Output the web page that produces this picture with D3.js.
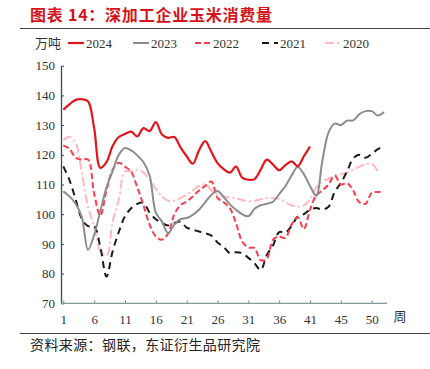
<!DOCTYPE html>
<html>
<head>
<meta charset="utf-8">
<script src="https://cdn.jsdelivr.net/npm/d3@7"></script>
<style>
  body { margin: 0; background: #fff; }
  svg { display: block; }
</style>
</head>
<body>
<div id="chart"></div>
<script>
// weekly corn consumption, 万吨
const xLabels = ["1", "6", "11", "16", "21", "26", "31", "36", "41", "45", "50"];
const yTicks = [70, 80, 90, 100, 110, 120, 130, 140, 150];
const years = ["2024", "2023", "2022", "2021", "2020"];

const y2024 = [135.2, 137, 138.5, 138.7, 138, 129, 115.6, 117.5, 123, 126,
  127, 127.8, 126.2, 129, 128, 131, 126.8, 125.7, 126, 122.5,
  119.5, 117, 121.5, 124.6, 121, 117.2, 115.2, 114, 116, 112.3,
  111.6, 111.8, 115, 118.4, 116.7, 114.8, 116.5, 117.8, 116.2, 119.5,
  122.8];
const y2023 = [107.7, 106, 103.5, 99, 88, 93, 101, 109, 114.5, 120,
  122.3, 121.5, 119.8, 117.5, 113, 100.5, 97.5, 93.6, 96.5, 98.3,
  98.7, 99.8, 101.5, 104, 106.5, 107.8, 105.8, 103.3, 101.5, 100,
  99.3, 101.8, 103, 103.5, 104.2, 106.8, 109.4, 113, 115.9, 113.5,
  109.5, 106.2, 118, 127.5, 130.5, 130, 131.5, 131.6, 133.7, 134.7,
  134.7, 133.2, 134.4];
const y2022 = [123.2, 122, 119, 118.4, 118.4, 107, 99.5, 108, 115, 117.3,
  116, 114.3, 109, 103, 96.5, 92.5, 91.4, 93.5, 100, 103,
  104.3, 106, 108, 109.5, 111, 105.5, 104, 102, 97, 90.8,
  88.8, 88.6, 84.5, 85, 91.4, 92.5, 92, 96.5, 99, 95,
  101.5, 106.3, 108, 110, 113, 110, 110.5, 108, 104, 103.5,
  107.2, 107.5, 107.7];
const y2021 = [116.1, 111.5, 105, 98.5, 96, 96, 89, 79, 87.5, 94,
  99.3, 102, 103.5, 103.8, 100.5, 98.3, 97, 96.2, 97, 97.5,
  95.5, 94.8, 94.2, 93.6, 92.8, 90.5, 89, 86.9, 87.2, 86.9,
  85.3, 83.5, 81.2, 86.3, 89.5, 94, 93.8, 96, 99.2, 100,
  101.5, 102.1, 101.6, 102.5, 107.5, 110.5, 114.4, 118.8, 120, 119,
  120.3, 121.9, 122.8];
const y2020 = [125, 126, 124, 114, 102.5, 96, 87.5, 86, 97.5, 105,
  114.4, 114.5, 114.8, 114, 111.5, 108.5, 106, 104.5, 104.6, 105.5,
  106.5, 108, 109.5, 110, 108, 106.5, 106, 105.6, 105.4, 104.8,
  104.3, 104.5, 105, 105.4, 105.4, 105.2, 104, 103, 102.5, 103,
  105, 109, 111, 112, 113, 113.5, 114, 115, 116, 116.8,
  117, 114.5];

const seriesValues = [y2024, y2023, y2022, y2021, y2020];
const styles = {
  "2024": { color: "#e3141c", width: 2.2, dash: null },
  "2023": { color: "#8c8c8c", width: 2, dash: null },
  "2022": { color: "#ff3b4e", width: 2, dash: "6,3" },
  "2021": { color: "#1a1a1a", width: 2, dash: "7,5" },
  "2020": { color: "#ffb8bf", width: 2, dash: "9,3,2,3" }
};

const width = 430, height = 369;
const svg = d3.select("#chart").append("svg")
  .attr("width", width)
  .attr("height", height);

const serif = "'Liberation Serif', 'Times New Roman', serif";
const cjk = "'Noto Sans CJK SC', sans-serif";

// title
svg.append("text")
  .attr("x", 30).attr("y", 21)
  .attr("fill", "#d6121b")
  .attr("font-family", cjk)
  .attr("font-weight", "bold")
  .attr("font-size", 16)
  .attr("textLength", 242)
  .text("图表 14：深加工企业玉米消费量");

svg.append("line").attr("x1", 20).attr("x2", 430).attr("y1", 28.5).attr("y2", 28.5)
  .attr("stroke", "#444").attr("stroke-width", 1);
svg.append("line").attr("x1", 20).attr("x2", 430).attr("y1", 333.5).attr("y2", 333.5)
  .attr("stroke", "#444").attr("stroke-width", 1);

svg.append("text")
  .attr("x", 30).attr("y", 350)
  .attr("fill", "#222")
  .attr("font-family", cjk)
  .attr("font-size", 14)
  .attr("textLength", 230)
  .text("资料来源：钢联，东证衍生品研究院");

// scales
const x = d3.scaleLinear().domain([0, 50]).range([63.3, 371.7]);
const y = d3.scaleLinear().domain([70, 150]).range([303.3, 65.7]);

// y axis
const yAxis = svg.append("g")
  .attr("transform", "translate(61,0)")
  .call(d3.axisLeft(y).tickValues(yTicks).tickSizeInner(-3).tickSizeOuter(0).tickPadding(6));
yAxis.select(".domain").attr("stroke", "#2f4f4f").attr("stroke-width", 1.3);
yAxis.selectAll(".tick line").attr("stroke", "#2f4f4f");
yAxis.selectAll("text").attr("font-family", serif).attr("font-size", 13).attr("fill", "#333");

// x axis
const xAxis = svg.append("g")
  .attr("transform", "translate(0,303.3)")
  .call(d3.axisBottom(x)
    .tickValues(d3.range(xLabels.length).map(i => i * 5))
    .tickFormat((d, i) => xLabels[i])
    .tickSizeInner(-3).tickSizeOuter(0).tickPadding(11));
xAxis.select(".domain").remove();
xAxis.selectAll(".tick line").attr("stroke", "#6f8f8f");
xAxis.selectAll("text").attr("font-family", serif).attr("font-size", 13).attr("fill", "#333");
xAxis.append("line").attr("x1", 61).attr("x2", 387).attr("y1", 0).attr("y2", 0)
  .attr("stroke", "#7f9c9c").attr("stroke-width", 1.3);

svg.append("text")
  .attr("x", 400).attr("y", 321)
  .attr("text-anchor", "middle")
  .attr("font-family", cjk)
  .attr("font-size", 13)
  .attr("fill", "#333")
  .text("周");

// lines, oldest at the bottom
const line = d3.line()
  .x((d, i) => x(i))
  .y(d => y(d))
  .curve(d3.curveCatmullRom.alpha(0.5));

const order = years.map((yr, i) => ({ yr, values: seriesValues[i] })).reverse();
svg.append("g")
  .attr("fill", "none")
  .selectAll("path")
  .data(order)
  .join("path")
  .attr("d", d => line(d.values))
  .attr("stroke", d => styles[d.yr].color)
  .attr("stroke-width", d => styles[d.yr].width)
  .attr("stroke-dasharray", d => styles[d.yr].dash)
  .attr("stroke-linejoin", "round");

// legend
const legend = svg.append("g").attr("transform", "translate(0,43)");
legend.append("text")
  .attr("x", 35).attr("y", 0).attr("dy", "0.35em")
  .attr("font-family", cjk).attr("font-size", 13).attr("fill", "#333")
  .text("万吨");

const legendX = [68, 133, 195, 262, 325];
const item = legend.selectAll("g.item")
  .data(years)
  .join("g")
  .attr("class", "item")
  .attr("transform", (d, i) => `translate(${legendX[i]},0)`);
item.append("line")
  .attr("x1", 0).attr("x2", 16)
  .attr("stroke", d => styles[d].color)
  .attr("stroke-width", d => styles[d].width)
  .attr("stroke-dasharray", d => styles[d].dash);
item.append("text")
  .attr("x", 18).attr("dy", "0.35em")
  .attr("font-family", serif).attr("font-size", 13).attr("fill", "#333")
  .text(d => d);
</script>
</body>
</html>
